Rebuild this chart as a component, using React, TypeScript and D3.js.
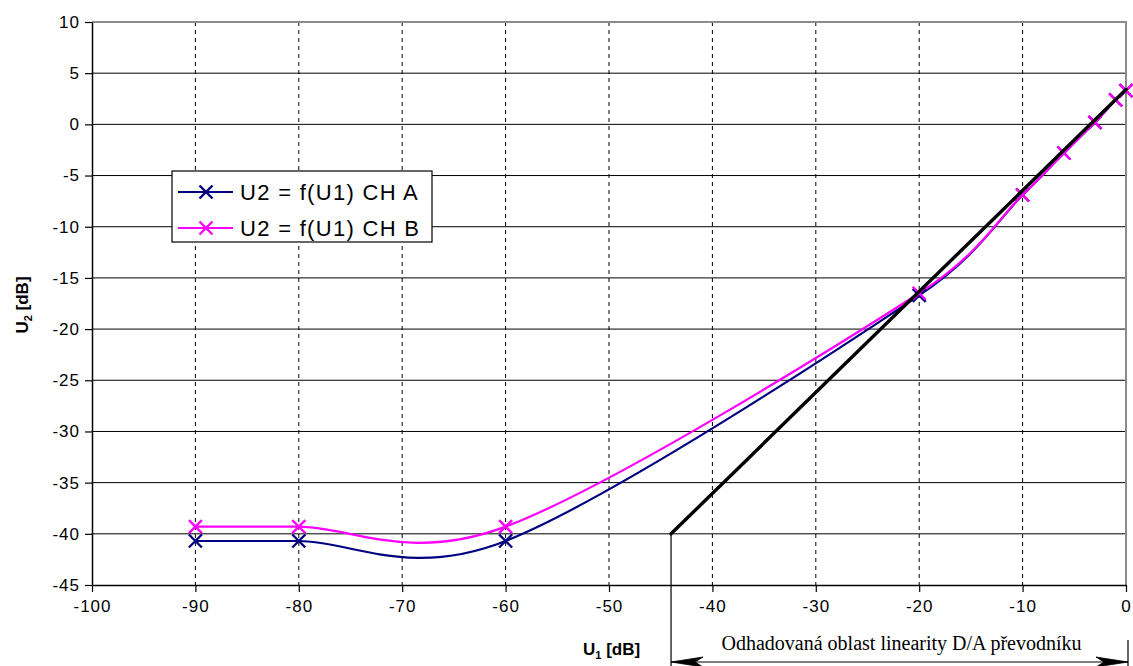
import React, { useEffect, useRef } from "react";
import * as d3 from "d3";

// measured points (U1 in dB)
const u1Points = [-90, -80, -60, -20, -10, -6, -3, -1, 0];
const chA = [-40.7, -40.7, -40.7, -16.7, -6.9, -2.8, 0.2, 2.4, 3.3];
const chB = [-39.3, -39.3, -39.3, -16.5, -6.9, -2.8, 0.2, 2.4, 3.3];

// estimated linear range of the D/A converter
const linearityU1 = [-44, 0];
const linearityU2 = [-40, 3.4];

const xTicks = [-100, -90, -80, -70, -60, -50, -40, -30, -20, -10, 0];
const yTicks = [10, 5, 0, -5, -10, -15, -20, -25, -30, -35, -40, -45];
const seriesNames = ["U2 = f(U1) CH A", "U2 = f(U1) CH B"];
const seriesColors = ["#000080", "#ff00ff"];
const annotation = "Odhadovaná oblast linearity D/A převodníku";

// spreadsheet-style smoothed line: bezier with 1/6 tangents, clamped to half the segment
const smoothPath = (pts: [number, number][]) => {
  const p = d3.path();
  p.moveTo(pts[0][0], pts[0][1]);
  for (let i = 0; i < pts.length - 1; i++) {
    const p0 = pts[i - 1] || pts[i];
    const p1 = pts[i];
    const p2 = pts[i + 1];
    const p3 = pts[i + 2] || pts[i + 1];
    const seg = Math.hypot(p2[0] - p1[0], p2[1] - p1[1]);
    const arm = (a: [number, number], b: [number, number]) => {
      let dx = (b[0] - a[0]) / 6, dy = (b[1] - a[1]) / 6;
      const len = Math.hypot(dx, dy);
      if (len > seg / 2) {
        dx *= seg / 2 / len;
        dy *= seg / 2 / len;
      }
      return [dx, dy];
    };
    const t1 = arm(p0, p2);
    const t2 = arm(p1, p3);
    p.bezierCurveTo(p1[0] + t1[0], p1[1] + t1[1], p2[0] - t2[0], p2[1] - t2[1], p2[0], p2[1]);
  }
  return p.toString();
};

const App = () => {
  const ref = useRef<SVGSVGElement>(null);

  useEffect(() => {
    const left = 92, right = 1126, top = 22, bottom = 585;
    const font = "Arial, 'Liberation Sans', sans-serif";

    const svg = d3.select(ref.current);
    svg.selectAll("*").remove();

    const x = d3.scaleLinear().domain([-100, 0]).range([left, right]);
    const y = d3.scaleLinear().domain([-45, 10]).range([bottom, top]);

    svg.append("rect").attr("width", 1133).attr("height", 666).attr("fill", "#fff");

    // horizontal grid
    svg.append("g")
      .selectAll("line")
      .data(yTicks.filter(d => d !== 10 && d !== -45))
      .enter()
      .append("line")
      .attr("x1", left).attr("x2", right)
      .attr("y1", d => y(d)).attr("y2", d => y(d))
      .attr("stroke", "#000").attr("stroke-width", 1);

    // vertical dashed grid
    svg.append("g")
      .selectAll("line")
      .data(xTicks.filter(d => d !== -100 && d !== 0))
      .enter()
      .append("line")
      .attr("x1", d => x(d)).attr("x2", d => x(d))
      .attr("y1", top).attr("y2", bottom)
      .attr("stroke", "#000").attr("stroke-width", 1)
      .attr("stroke-dasharray", "4,4");

    // plot border (gray top/right), black axes
    svg.append("path")
      .attr("d", `M${left},${top}H${right}V${bottom}`)
      .attr("fill", "none").attr("stroke", "#8c8c8c").attr("stroke-width", 2);

    const yAxis = svg.append("g").attr("transform", `translate(${left},0)`)
      .call(d3.axisLeft(y).tickValues(yTicks).tickSize(7).tickSizeOuter(0).tickFormat(d => String(d)));
    const xAxis = svg.append("g").attr("transform", `translate(0,${bottom})`)
      .call(d3.axisBottom(x).tickValues(xTicks).tickSize(7).tickSizeOuter(0).tickFormat(d => String(d)));

    [yAxis, xAxis].forEach(a => {
      a.select(".domain").attr("stroke", "#000").attr("stroke-width", 1.5);
      a.selectAll(".tick line").attr("stroke", "#000").attr("stroke-width", 1.2);
      a.selectAll(".tick text")
        .attr("font-family", font).attr("font-size", 17)
        .attr("fill", "#000").style("letter-spacing", "1px");
    });
    yAxis.selectAll(".tick text").attr("x", -12);
    xAxis.selectAll(".tick text").attr("y", 15);

    // series
    [chA, chB].forEach((vals, s) => {
      const pts = vals.map((v, i) => [x(u1Points[i]), y(v)] as [number, number]);
      svg.append("path")
        .attr("d", smoothPath(pts))
        .attr("fill", "none")
        .attr("stroke", seriesColors[s])
        .attr("stroke-width", 2.2);
    });

    const cross = (g: any, cx: number, cy: number, color: string) => {
      const r = 6.5;
      g.append("path")
        .attr("d", `M${cx - r},${cy - r}L${cx + r},${cy + r}M${cx - r},${cy + r}L${cx + r},${cy - r}`)
        .attr("stroke", color).attr("stroke-width", 2.4).attr("fill", "none");
    };

    [chA, chB].forEach((vals, s) => {
      const g = svg.append("g");
      vals.forEach((v, i) => cross(g, x(u1Points[i]), y(v), seriesColors[s]));
    });

    // linearity line
    svg.append("line")
      .attr("x1", x(linearityU1[0])).attr("y1", y(linearityU2[0]))
      .attr("x2", x(linearityU1[1])).attr("y2", y(linearityU2[1]))
      .attr("stroke", "#000").attr("stroke-width", 3.4).attr("stroke-linecap", "round");

    // annotation below the axis
    const ax0 = x(linearityU1[0]);
    const ax1 = x(linearityU1[1]) + 2;
    const ay = 662;
    const ann = svg.append("g").attr("stroke", "#000").attr("fill", "none");
    ann.append("line").attr("x1", ax0).attr("x2", ax0)
      .attr("y1", y(linearityU2[0])).attr("y2", ay + 4).attr("stroke-width", 1.2);
    ann.append("line").attr("x1", ax1).attr("x2", ax1)
      .attr("y1", 640).attr("y2", ay + 4).attr("stroke-width", 1.2);
    ann.append("line").attr("x1", ax0).attr("x2", ax1)
      .attr("y1", ay).attr("y2", ay).attr("stroke-width", 1.2);
    ann.append("path")
      .attr("d", `M${ax0},${ay}L${ax0 + 32},${ay - 5}L${ax0 + 24},${ay}L${ax0 + 32},${ay + 5}Z`)
      .attr("fill", "#000").attr("stroke-width", 0.8);
    ann.append("path")
      .attr("d", `M${ax1},${ay}L${ax1 - 32},${ay - 5}L${ax1 - 24},${ay}L${ax1 - 32},${ay + 5}Z`)
      .attr("fill", "#000").attr("stroke-width", 0.8);

    svg.append("text")
      .attr("x", (ax0 + ax1) / 2 + 2).attr("y", 650)
      .attr("text-anchor", "middle")
      .attr("font-family", "'Times New Roman', 'Liberation Serif', serif")
      .attr("font-size", 20)
      .text(annotation);

    // axis titles
    const xt = svg.append("text")
      .attr("x", 583).attr("y", 655)
      .attr("font-family", font).attr("font-size", 17).attr("font-weight", "bold");
    xt.append("tspan").text("U");
    xt.append("tspan").attr("font-size", 11).attr("dy", 4).text("1");
    xt.append("tspan").attr("dy", -4).text(" [dB]");

    const yt = svg.append("text")
      .attr("transform", `translate(28,305) rotate(-90)`)
      .attr("text-anchor", "middle")
      .attr("font-family", font).attr("font-size", 17).attr("font-weight", "bold");
    yt.append("tspan").text("U");
    yt.append("tspan").attr("font-size", 11).attr("dy", 4).text("2");
    yt.append("tspan").attr("dy", -4).text(" [dB]");

    // legend
    const lg = svg.append("g");
    lg.append("rect")
      .attr("x", 172).attr("y", 171).attr("width", 260).attr("height", 71)
      .attr("fill", "#fff").attr("stroke", "#000").attr("stroke-width", 1.2);
    seriesNames.forEach((name, i) => {
      const ly = 192 + i * 36;
      lg.append("line").attr("x1", 178).attr("x2", 233).attr("y1", ly).attr("y2", ly)
        .attr("stroke", seriesColors[i]).attr("stroke-width", 2.2);
      cross(lg, 206, ly, seriesColors[i]);
      lg.append("text")
        .attr("x", 240).attr("y", ly).attr("dy", "0.36em")
        .attr("font-family", font).attr("font-size", 22)
        .style("letter-spacing", "1.3px")
        .text(name);
    });
  }, []);

  return (
    <svg
      ref={ref}
      width={1133}
      height={666}
      style={{ position: "absolute", left: 0, top: 0 }}
    ></svg>
  );
};

export default App;
